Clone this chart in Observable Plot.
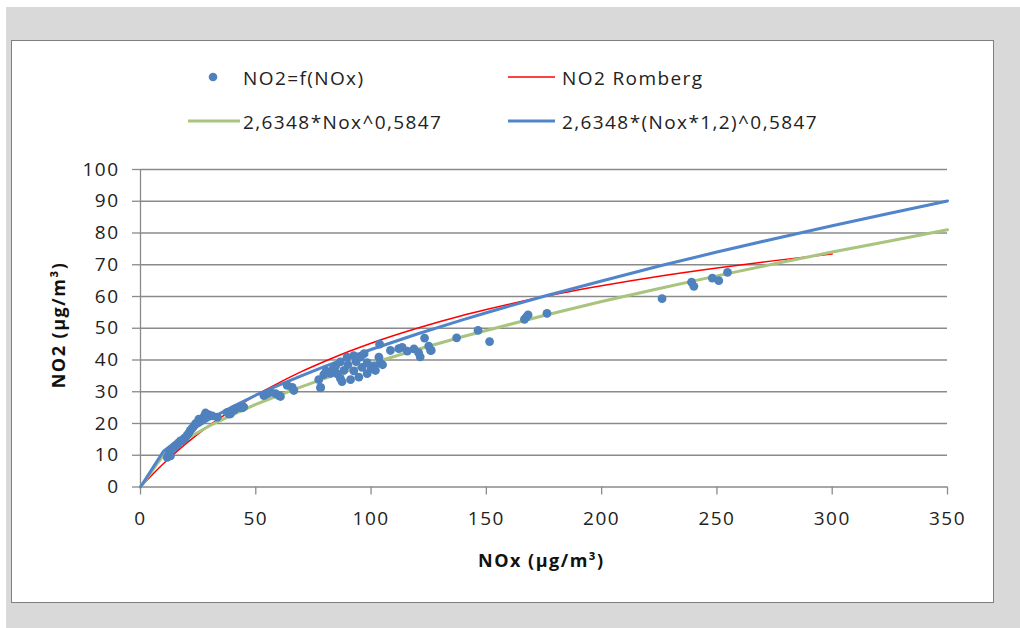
<!DOCTYPE html>
<html>
<head>
<meta charset="utf-8">
<script src="https://cdn.jsdelivr.net/npm/d3@7"></script>
<script src="https://cdn.jsdelivr.net/npm/@observablehq/plot@0.6"></script>
<style>
  html, body { margin: 0; padding: 0; background: #fff; }
  #page { position: relative; width: 1020px; height: 628px; overflow: hidden; font-family: "Open Sans", "Noto Sans", sans-serif; color: #222; }
  #bg { position: absolute; left: 6px; top: 7px; right: 0; bottom: 0; background: #d9d9d9; }
  #box { position: absolute; left: 11px; top: 40px; width: 981px; height: 561px; background: #fff; border: 1px solid #7f7f7f; }
  #plot { position: absolute; left: 0; top: 0; }
  .lg { position: absolute; font-size: 19px; letter-spacing: 1.4px; line-height: 24px; white-space: nowrap; color: #222; }
  .sw { position: absolute; }
  .ttl { position: absolute; font-size: 18px; font-weight: bold; letter-spacing: 1.5px; line-height: 24px; white-space: nowrap; color: #111; }
</style>
</head>
<body>
<div id="page">
  <div id="bg"></div>
  <div id="box"></div>
  <div id="plot"></div>
  <svg class="sw" style="left:0;top:0" width="1020" height="140">
    <circle cx="213" cy="77" r="4.3" fill="#4f81bd"></circle>
    <line x1="508" x2="555" y1="77" y2="77" stroke="#ff0000" stroke-width="1.5"></line>
    <line x1="188" x2="240" y1="121" y2="121" stroke="#a8c47e" stroke-width="3"></line>
    <line x1="508" x2="555" y1="121" y2="121" stroke="#5085cb" stroke-width="3"></line>
  </svg>
  <div class="lg" style="left:243px;top:66px">NO2=f(NOx)</div>
  <div class="lg" style="left:562px;top:66px">NO2 Romberg</div>
  <div class="lg" style="left:243px;top:110px">2,6348*Nox^0,5847</div>
  <div class="lg" style="left:562px;top:110px">2,6348*(Nox*1,2)^0,5847</div>
  <div class="ttl" style="left:478px;top:548px">NOx (µg/m³)</div>
  <div class="ttl" style="left:58px;top:325px;transform:translate(-50%,-50%) rotate(-90deg)">NO2 (µg/m³)</div>
</div>
<script>
// Measured points NO2 = f(NOx)
const measNOx = [11.6, 12.3, 12.8, 13.0, 13.7, 14.5, 15.2, 16.0, 16.6, 17.3, 18.0, 18.8, 19.5, 20.2, 20.9, 21.6, 22.4, 23.1, 23.9, 25.0, 25.3, 26.0, 27.5, 28.2, 29.5, 31.1, 33.3, 37.6, 38.3, 39.0, 40.5, 41.2, 43.4, 44.1, 44.8,
  53.5, 54.2, 55.2, 56.4, 58.6, 60.0, 60.7, 63.6, 65.8, 66.5,
  77.3, 78.1, 78.1, 79.5, 80.5, 82.4, 83.5, 84.6, 85.3, 86.7, 86.7, 87.4, 88.2, 89.6, 90.0, 91.1, 92.5, 92.5, 93.5, 94.7, 95.4, 96.1, 97.0, 98.3, 98.3, 100.0, 101.2, 101.9, 103.4, 103.7, 104.0, 105.0,
  108.4, 112.0, 113.5, 115.7, 118.6, 120.6, 121.3, 123.2, 125.0, 125.8, 126.1,
  137.1, 146.4, 151.4, 166.5, 167.3, 168.1, 176.3, 226.2, 239.0, 240.0, 248.0, 250.8, 254.6];
const measNO2 = [9.3, 10.5, 11.3, 9.8, 12.0, 12.5, 13.0, 13.5, 14.0, 14.5, 14.5, 15.2, 15.5, 16.3, 17.0, 17.8, 18.5, 19.2, 20.0, 20.5, 21.4, 21.0, 22.2, 23.3, 22.8, 22.4, 22.0, 23.5, 23.0, 23.0, 24.2, 24.6, 25.0, 24.9, 25.2,
  28.8, 29.1, 29.5, 29.9, 29.4, 28.8, 28.5, 32.0, 31.4, 30.4,
  33.8, 31.2, 31.4, 35.4, 36.5, 35.8, 37.2, 38.0, 35.6, 39.4, 34.2, 33.2, 36.7, 40.9, 38.5, 33.8, 41.4, 36.6, 39.5, 34.6, 40.9, 37.7, 42.0, 39.2, 35.7, 37.2, 38.0, 36.7, 40.9, 45.0, 39.0, 38.5,
  43.0, 43.6, 44.0, 42.8, 43.5, 42.3, 41.0, 46.9, 44.4, 43.0, 43.0,
  47.0, 49.3, 45.8, 52.8, 53.5, 54.2, 54.7, 59.3, 64.5, 63.2, 65.8, 65.0, 67.6];

// Curve samples
const curveNOx   = [0, 10, 20, 30, 40, 50, 60, 70, 80, 90, 100, 120, 140, 150, 175, 200, 225, 250, 275, 300, 325, 350];
const rombergNO2 = [0, 7.4, 13.8, 19.5, 24.4, 28.9, 32.8, 36.4, 39.6, 42.6, 45.3, 50.0, 54.1, 55.9, 60.0, 63.4, 66.4, 69.0, 71.3, 73.4, null, null];
const fitNO2     = [0, 10.1, 15.2, 19.3, 22.8, 26.0, 28.9, 31.6, 34.2, 36.6, 38.9, 43.3, 47.4, 49.3, 54.0, 58.4, 62.5, 66.5, 70.3, 74.0, 77.5, 81.0];
const fit12NO2   = [0, 11.3, 16.9, 21.4, 25.3, 28.9, 32.1, 35.1, 38.0, 40.7, 43.3, 48.2, 52.7, 54.9, 60.1, 64.9, 69.6, 74.0, 78.2, 82.3, 86.2, 90.1];

const xTicks = [0, 50, 100, 150, 200, 250, 300, 350];
const yTicks = [0, 10, 20, 30, 40, 50, 60, 70, 80, 90, 100];

const points = measNOx.map((x, i) => ({x, y: measNO2[i]}));
const curve = (arr) => curveNOx.map((x, i) => ({x, y: arr[i]})).filter(d => d.y != null);

const gridCol = "#8a8a8a";
const chart = Plot.plot({
  width: 1020,
  height: 628,
  marginLeft: 140,
  marginRight: 73,
  marginTop: 169,
  marginBottom: 141.5,
  x: {domain: [0, 350]},
  y: {domain: [0, 100]},
  style: {background: "transparent", fontFamily: "'Open Sans', 'Noto Sans', sans-serif", letterSpacing: "1.5px"},
  marks: [
    Plot.gridY(yTicks.filter(d => d > 0), {stroke: gridCol, strokeOpacity: 1, strokeWidth: 1.3}),
    Plot.ruleY([0], {stroke: gridCol, strokeWidth: 1.3}),
    Plot.ruleX([0], {stroke: gridCol, strokeWidth: 1.3}),
    Plot.axisY({ticks: yTicks, tickSize: 8, tickPadding: 13, label: null, stroke: gridCol, strokeWidth: 1.3, fill: "#222", fontSize: 19, tickFormat: d => String(d)}),
    Plot.axisX({ticks: xTicks, tickSize: 8, tickPadding: 16, label: null, stroke: gridCol, strokeWidth: 1.3, fill: "#222", fontSize: 19, tickFormat: d => String(d)}),
    Plot.line(curve(rombergNO2), {x: "x", y: "y", stroke: "#ff0000", strokeWidth: 1.5, curve: "monotone-x"}),
    Plot.line(curve(fitNO2), {x: "x", y: "y", stroke: "#a8c47e", strokeWidth: 3}),
    Plot.line(curve(fit12NO2), {x: "x", y: "y", stroke: "#5085cb", strokeWidth: 3}),
    Plot.dot(points, {x: "x", y: "y", r: 4.4, fill: "#4f81bd", stroke: "none"})
  ]
});
document.getElementById("plot").appendChild(chart);
</script>
</body>
</html>
